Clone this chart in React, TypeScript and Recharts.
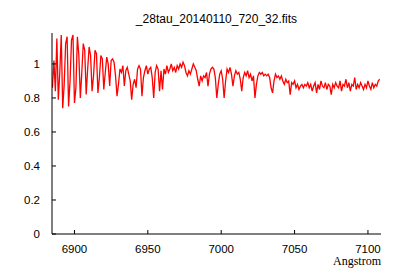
import { LineChart, Line, XAxis, YAxis, Label } from "recharts";

// spectrum sampling grid (FITS style: start wavelength + fixed step)
const WL_START = 6885;
const WL_STEP = 1;

// normalised flux, one value per Angstrom from 6885
const flux: number[] = [
  0.86, 1.02, 0.84, 1.15, 0.79, 0.95, 1.17, 0.74, 0.88, 1.12,
  1.16, 0.75, 0.9, 1.14, 1.17, 0.77, 0.86, 1.16, 1.05, 0.8,
  0.95, 1.12, 1.08, 0.82, 0.97, 1.1, 1.05, 0.84, 0.93, 1.08,
  1.06, 0.83, 0.92, 1.05, 1.03, 0.85, 0.95, 1.04, 1.0, 0.87,
  1.02, 1.03, 1.01, 0.93, 0.81, 0.88, 0.97, 0.95, 0.99, 0.87,
  0.96, 0.98, 0.94, 0.9, 0.79, 0.88, 0.91, 0.86, 0.97, 0.99,
  0.97, 0.81, 0.92, 0.96, 0.99, 0.94, 0.97, 0.98, 0.92, 0.8,
  0.95, 0.99, 0.97, 0.84, 0.96, 0.85, 0.97, 0.94, 0.99, 0.95,
  0.97, 1.0, 0.96, 0.98, 0.95, 0.99, 0.97, 1.0, 0.98, 1.01,
  0.99, 0.95, 0.93, 0.96, 0.94, 0.97, 1.0, 0.98, 0.96, 0.91,
  0.87, 0.93, 0.9, 0.93, 0.92, 0.95, 0.87, 0.94, 0.97, 0.98,
  0.97, 0.92, 0.8, 0.88, 0.94, 0.96, 0.91, 0.8, 0.9, 0.97,
  0.95, 0.98, 0.94, 0.87, 0.93, 0.96, 0.94, 0.95, 0.91, 0.84,
  0.92, 0.95, 0.93, 0.96, 0.92, 0.94, 0.9, 0.93, 0.8, 0.88,
  0.93, 0.95, 0.94, 0.95, 0.93, 0.94, 0.93, 0.94, 0.92, 0.86,
  0.83, 0.9, 0.94, 0.92, 0.93, 0.91, 0.93, 0.9, 0.88, 0.91,
  0.89, 0.9, 0.82, 0.89, 0.88, 0.9, 0.86, 0.88, 0.85, 0.87,
  0.88, 0.86, 0.88, 0.87, 0.89, 0.86, 0.88, 0.84, 0.87, 0.89,
  0.83, 0.88, 0.85, 0.9, 0.87, 0.86, 0.89, 0.85, 0.88, 0.87,
  0.82, 0.88, 0.86, 0.89, 0.87, 0.86, 0.9, 0.84, 0.88, 0.87,
  0.91, 0.86, 0.89, 0.84, 0.88, 0.87, 0.92, 0.85, 0.88, 0.86,
  0.89, 0.87, 0.85, 0.88, 0.86, 0.9, 0.87, 0.85, 0.89, 0.86,
  0.88, 0.87, 0.9, 0.91,
];

const xTicks = [6900, 6950, 7000, 7050, 7100];
const yTicks = [0, 0.2, 0.4, 0.6, 0.8, 1];
const xDomain = [6884.7, 7108.9];
const yDomain = [0, 1.182];

const data = flux.map((f, i) => ({ wl: WL_START + i * WL_STEP, flux: f }));

const tickFont = { fill: "#000", fontSize: 11.5, fontFamily: "Liberation Sans, Arial, sans-serif" };

export default function App() {
  return (
    <div style={{ position: "absolute", left: 0, top: 0, width: 400, height: 280, background: "#fff" }}>
      <div
        style={{
          position: "absolute",
          left: 52,
          top: 12,
          width: 329,
          textAlign: "center",
          fontFamily: "Liberation Sans, Arial, sans-serif",
          fontSize: 12,
          lineHeight: "14px",
        }}
      >
        _28tau_20140110_720_32.fits
      </div>
      <LineChart width={400} height={280} data={data} margin={{ top: 33, right: 19, bottom: 15, left: 0 }}>
        <XAxis
          xAxisId="b"
          dataKey="wl"
          type="number"
          domain={xDomain}
          ticks={xTicks}
          allowDataOverflow
          height={31}
          tickSize={-4}
          tickMargin={15}
          tick={tickFont}
          axisLine={{ stroke: "#000" }}
          tickLine={{ stroke: "#000" }}
        >
          <Label
            value="Angstrom"
            position="insideBottomRight"
            offset={0}
            style={{ fill: "#000", fontSize: 12, fontFamily: "Liberation Serif, Times New Roman, serif" }}
          />
        </XAxis>
        <XAxis
          xAxisId="t"
          orientation="top"
          dataKey="wl"
          type="number"
          domain={xDomain}
          ticks={xTicks}
          allowDataOverflow
          height={0}
          tickSize={-4}
          tick={false}
          axisLine={{ stroke: "#000" }}
          tickLine={{ stroke: "#000" }}
        />
        <YAxis
          yAxisId="l"
          type="number"
          domain={yDomain}
          ticks={yTicks}
          allowDataOverflow
          width={52}
          tickSize={-4}
          tickMargin={16}
          tick={tickFont}
          axisLine={{ stroke: "#000" }}
          tickLine={{ stroke: "#000" }}
        />
        <YAxis
          yAxisId="r"
          orientation="right"
          type="number"
          domain={yDomain}
          ticks={yTicks}
          allowDataOverflow
          width={0}
          tickSize={-4}
          tick={false}
          axisLine={{ stroke: "#000" }}
          tickLine={{ stroke: "#000" }}
        />
        <Line
          xAxisId="b"
          yAxisId="l"
          type="linear"
          dataKey="flux"
          stroke="#ff0000"
          strokeWidth={1.3}
          dot={false}
          isAnimationActive={false}
        />
      </LineChart>
    </div>
  );
}
